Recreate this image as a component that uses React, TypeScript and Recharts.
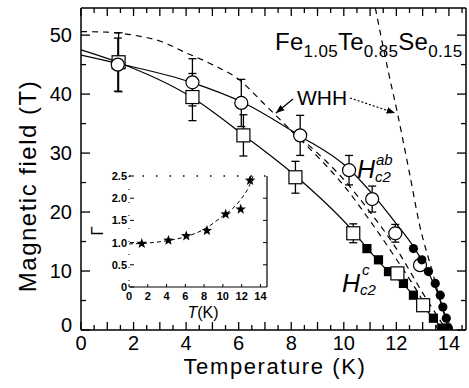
import React from "react";
import { ComposedChart, Line, Scatter, XAxis, YAxis, ErrorBar, ReferenceLine } from "recharts";

const FONT = "Arial, 'Liberation Sans', Helvetica, sans-serif";

// main panel: upper critical field vs temperature
const X_TICKS = [0, 0.5, 1, 1.5, 2, 2.5, 3, 3.5, 4, 4.5, 5, 5.5, 6, 6.5, 7, 7.5, 8, 8.5, 9, 9.5, 10, 10.5, 11, 11.5, 12, 12.5, 13, 13.5, 14, 14.5];
const Y_TICKS = [0, 5, 10, 15, 20, 25, 30, 35, 40, 45, 50];

const AB_OPEN_T = [1.4, 4.24, 6.1, 8.34, 10.2, 11.08, 11.96, 12.9];
const AB_OPEN_H = [45, 42, 38.5, 33, 27.1, 22.2, 16.4, 11];
const AB_OPEN_ERR = [4.5, 4, 4, 3.4, 2.5, 2.2, 1.5, 0];

const C_OPEN_T = [1.43, 4.24, 6.18, 8.16, 10.36, 12.04, 13.02];
const C_OPEN_H = [45.4, 39.5, 33, 25.9, 16.4, 9.6, 4.2];
const C_OPEN_ERR = [5, 4, 3.5, 2.7, 1.6, 0, 0];

const AB_FILL_T = [12.65, 12.97, 13.22, 13.48, 13.67, 13.77, 13.9, 13.98];
const AB_FILL_H = [13.8, 11.9, 9.9, 7.9, 5.9, 3.9, 2.0, 0.3];

const C_FILL_T = [10.88, 11.32, 11.7, 12.27, 12.65, 13.03, 13.41, 13.73, 13.92];
const C_FILL_H = [13.8, 11.9, 9.9, 7.9, 5.9, 3.9, 2.0, 0.3, 0.3];

const FIT_AB_T = [0, 1.4, 4.2, 6.2, 8.3, 10.2, 11.1, 12.0, 12.7, 13.2, 13.6, 13.85, 14.0];
const FIT_AB_H = [46.6, 45.2, 42, 38.5, 33, 27.3, 23, 18, 13.8, 9.9, 5.9, 2.5, 0];

const FIT_C_T = [0, 1.4, 4.2, 6.2, 8.2, 10.3, 10.9, 11.7, 12.3, 12.7, 13.05, 13.45, 13.8];
const FIT_C_H = [47.5, 45.4, 39.5, 33, 26, 17, 13.8, 9.9, 7.6, 5.6, 3.8, 1.8, 0];

const WHH_C_T = [0, 1, 2, 3, 4, 5, 6, 7, 8, 9, 10, 11, 12, 13, 13.6];
const WHH_C_H = [50.6, 50.5, 50, 49, 47, 45, 42.5, 38.2, 33.8, 29.4, 24.5, 18.5, 12, 5, 0];

const WHH_C2_T = [8, 9, 10, 11, 12, 13, 13.9];
const WHH_C2_H = [33.8, 30, 25.5, 20, 13.8, 6.3, 0];

const WHH_AB_T = [11.2, 11.7, 12.04, 12.5, 12.9, 13.35, 13.7, 14.0];
const WHH_AB_H = [54.6, 43.7, 36.8, 26.6, 17.5, 10.2, 4.5, 0];

// inset: anisotropy
const IN_X_TICKS = [0, 2, 4, 6, 8, 10, 12, 14];
const IN_Y_TICKS = [0, 0.5, 1.0, 1.5, 2.0, 2.5];
const IN_Y_LABELS = ["0", "0.5", "1.0", "1.5", "2.0", "2.5"];
const GAMMA_T = [1.36, 4.2, 6.1, 8.3, 10.3, 11.9, 12.9];
const GAMMA_V = [0.98, 1.05, 1.15, 1.27, 1.64, 1.75, 2.4];
const GAMMA_FIT_T = [0, 2, 4, 6, 8, 10, 11, 12, 12.75, 13.25];
const GAMMA_FIT_V = [0.97, 0.99, 1.04, 1.13, 1.3, 1.6, 1.76, 2.0, 2.25, 2.52];

const pts = (t: number[], h: number[], e?: number[]) =>
  t.map((v, i) => ({ t: v, h: h[i], err: e ? e[i] : undefined }));

const BottomTick = ({ x, y, payload }: any) => {
  const v = payload.value;
  const len = Number.isInteger(v) ? 8 : 5;
  return (
    <g>
      <line x1={x} x2={x} y1={y} y2={y - len} stroke="#000" strokeWidth={1.3} />
      {v % 2 === 0 && (
        <text x={x} y={y + 20} textAnchor="middle" fontSize={20} fontFamily={FONT} fill="#000">{v}</text>
      )}
    </g>
  );
};

const TopTick = ({ x, y, payload }: any) => {
  const len = Number.isInteger(payload.value) ? 8 : 5;
  return <line x1={x} x2={x} y1={y} y2={y + len} stroke="#000" strokeWidth={1.3} />;
};

const LeftTick = ({ x, y, payload }: any) => {
  const v = payload.value;
  const len = v % 10 === 0 ? 9 : 5;
  return (
    <g>
      <line x1={x} x2={x + len} y1={y} y2={y} stroke="#000" strokeWidth={1.3} />
      {v % 10 === 0 && (
        <text x={x - 9} y={v === 0 ? y + 2 : y + 7} textAnchor="end" fontSize={20} fontFamily={FONT} fill="#000">{v}</text>
      )}
    </g>
  );
};

const RightTick = ({ x, y, payload }: any) => {
  const len = payload.value % 10 === 0 ? 9 : 5;
  return <line x1={x} x2={x - len} y1={y} y2={y} stroke="#000" strokeWidth={1.3} />;
};

const InBottomTick = ({ x, y, payload }: any) => (
  <g>
    <line x1={x} x2={x} y1={y} y2={y - 3} stroke="#000" strokeWidth={1} />
    <text x={x} y={y + 13} textAnchor="middle" fontSize={11} fontWeight="bold" fontFamily={FONT} fill="#000">{payload.value}</text>
  </g>
);

const InLeftTick = ({ x, y, payload, index }: any) => (
  <g>
    <line x1={x + 1} x2={x + 5} y1={y} y2={y} stroke="#000" strokeWidth={1} />
    <text x={x - 2} y={y + 4} textAnchor="end" fontSize={11} fontWeight="bold" fontFamily={FONT} fill="#000">
      {IN_Y_LABELS[index] ?? payload.value}
    </text>
  </g>
);

const InRightTick = ({ x, y }: any) => <line x1={x} x2={x - 4} y1={y} y2={y} stroke="#000" strokeWidth={1} />;

const OpenCircle = ({ cx, cy }: any) => <circle cx={cx} cy={cy} r={6.5} fill="#fff" stroke="#000" strokeWidth={1.2} />;
const OpenSquare = ({ cx, cy }: any) => (
  <rect x={cx - 6.5} y={cy - 6.5} width={13} height={13} fill="#fff" stroke="#000" strokeWidth={1.2} />
);
const FilledCircle = ({ cx, cy }: any) => <circle cx={cx} cy={cy} r={4.6} fill="#000" />;
const FilledSquare = ({ cx, cy }: any) => <rect x={cx - 4.6} y={cy - 4.6} width={9.2} height={9.2} fill="#000" />;
const Star = ({ cx, cy }: any) => {
  const p: string[] = [];
  for (let i = 0; i < 10; i++) {
    const r = i % 2 === 0 ? 5.5 : 2.3;
    const a = -Math.PI / 2 + (i * Math.PI) / 5;
    p.push(`${cx + r * Math.cos(a)},${cy + r * Math.sin(a)}`);
  }
  return <polygon points={p.join(" ")} fill="#000" />;
};

const axisStyle = { stroke: "#000", strokeWidth: 1.5 };

export default function App() {
  return (
    <div style={{ position: "absolute", left: 0, top: 0, width: 469, height: 388, background: "#fff", fontFamily: FONT }}>
      <ComposedChart width={469} height={388} margin={{ top: 7, right: 2, bottom: 0, left: 0 }}>
        <XAxis type="number" dataKey="t" domain={[0, 14.65]} allowDataOverflow ticks={X_TICKS} interval={0}
          tickSize={0} tickMargin={0} tickLine={false} tick={<BottomTick />} axisLine={axisStyle} height={58} />
        <XAxis xAxisId="top" orientation="top" type="number" dataKey="t" domain={[0, 14.65]} allowDataOverflow
          ticks={X_TICKS} interval={0} tickSize={0} tickMargin={0} tickLine={false} tick={<TopTick />} axisLine={axisStyle} height={1} />
        <YAxis type="number" dataKey="h" domain={[0, 54.6]} allowDataOverflow ticks={Y_TICKS} interval={0}
          tickSize={0} tickMargin={0} tickLine={false} tick={<LeftTick />} axisLine={axisStyle} width={81} />
        <YAxis yAxisId="right" orientation="right" type="number" dataKey="h" domain={[0, 54.6]} allowDataOverflow
          ticks={Y_TICKS} interval={0} tickSize={0} tickMargin={0} tickLine={false} tick={<RightTick />} axisLine={axisStyle} width={1} />

        <Line data={pts(WHH_C_T, WHH_C_H)} dataKey="h" type="monotone" stroke="#000" strokeWidth={1.2} strokeDasharray="6 5" dot={false} isAnimationActive={false} />
        <Line data={pts(WHH_C2_T, WHH_C2_H)} dataKey="h" type="monotone" stroke="#000" strokeWidth={1.2} strokeDasharray="6 5" dot={false} isAnimationActive={false} />
        {/* same scale as the main axes; tied to the top/right frame axes */}
        <Line data={pts(WHH_AB_T, WHH_AB_H)} xAxisId="top" yAxisId="right" dataKey="h" type="monotone" stroke="#000" strokeWidth={1.2} strokeDasharray="6 5" dot={false} isAnimationActive={false} />
        <Line data={pts(FIT_AB_T, FIT_AB_H)} dataKey="h" type="monotone" stroke="#000" strokeWidth={1.2} dot={false} isAnimationActive={false} />
        <Line data={pts(FIT_C_T, FIT_C_H)} dataKey="h" type="monotone" stroke="#000" strokeWidth={1.2} dot={false} isAnimationActive={false} />

        <Scatter data={pts(C_FILL_T, C_FILL_H)} dataKey="h" shape={<FilledSquare />} isAnimationActive={false} />
        <Scatter data={pts(C_OPEN_T, C_OPEN_H, C_OPEN_ERR)} dataKey="h" shape={<OpenSquare />} isAnimationActive={false}>
          <ErrorBar dataKey="err" direction="y" width={4} stroke="#000" strokeWidth={1.3} />
        </Scatter>
        <Scatter data={pts(AB_OPEN_T, AB_OPEN_H, AB_OPEN_ERR)} dataKey="h" shape={<OpenCircle />} isAnimationActive={false}>
          <ErrorBar dataKey="err" direction="y" width={4} stroke="#000" strokeWidth={1.3} />
        </Scatter>
        <Scatter data={pts(AB_FILL_T, AB_FILL_H)} dataKey="h" shape={<FilledCircle />} isAnimationActive={false} />
      </ComposedChart>

      {/* inset */}
      <div style={{ position: "absolute", left: 90, top: 165, width: 185, height: 160 }}>
        <ComposedChart width={185} height={160} margin={{ top: 11, right: 7, bottom: 0, left: 0 }}>
          <XAxis type="number" dataKey="t" domain={[0, 14.7]} allowDataOverflow ticks={IN_X_TICKS} interval={0}
            tickSize={0} tickMargin={0} tickLine={false} tick={<InBottomTick />} axisLine={{ stroke: "#000", strokeWidth: 1.2 }} height={38} />
          <YAxis type="number" dataKey="g" domain={[0, 2.5]} allowDataOverflow ticks={IN_Y_TICKS} interval={0}
            tickSize={0} tickMargin={0} tickLine={false} tick={<InLeftTick />} axisLine={{ stroke: "#000", strokeWidth: 1, strokeDasharray: "1 12" }} width={39} />
          <YAxis yAxisId="right" orientation="right" type="number" dataKey="g" domain={[0, 2.5]} allowDataOverflow
            ticks={[0.5, 1.0, 1.5, 2.0]} interval={0} tickSize={0} tickMargin={0} tickLine={false} tick={<InRightTick />}
            axisLine={{ stroke: "#000", strokeWidth: 1.2 }} width={1} />
          <ReferenceLine y={2.5} stroke="#000" strokeWidth={1.5} strokeDasharray="1.5 12" />
          <Line data={GAMMA_FIT_T.map((t, i) => ({ t, g: GAMMA_FIT_V[i] }))} yAxisId="right" dataKey="g" type="monotone" stroke="#000"
            strokeWidth={1} strokeDasharray="4 3" dot={false} isAnimationActive={false} />
          <Scatter data={GAMMA_T.map((t, i) => ({ t, g: GAMMA_V[i] }))} dataKey="g" shape={<Star />} isAnimationActive={false} />
        </ComposedChart>
      </div>

      {/* annotations */}
      <svg width={469} height={388} style={{ position: "absolute", left: 0, top: 0, pointerEvents: "none" }} fontFamily={FONT}>
        <defs>
          <marker id="ah" viewBox="0 0 10 10" refX="10" refY="5" markerWidth="7" markerHeight="7" orient="auto-start-reverse">
            <path d="M0,1 L10,5 L0,9 z" fill="#000" />
          </marker>
        </defs>
        <text transform="translate(27,186) rotate(-90)" textAnchor="middle" dominantBaseline="central" fontSize={24}
          letterSpacing={1.5} fill="#000">
          Magnetic field (T)
        </text>
        <text x={275} y={374} textAnchor="middle" fontSize={22} letterSpacing={1.6} fill="#000">Temperature (K)</text>

        <text x={275} y={50} fontSize={24} letterSpacing={0.3} fill="#000">
          Fe<tspan fontSize={17} dy={7}>1.05</tspan>
          <tspan dy={-7}>Te</tspan><tspan fontSize={17} dy={7}>0.85</tspan>
          <tspan dy={-7}>Se</tspan><tspan fontSize={17} dy={7}>0.15</tspan>
        </text>

        <text x={297} y={105} fontSize={21} fill="#000">WHH</text>
        <line x1={293} y1={99} x2={276} y2={113} stroke="#000" strokeWidth={1.2} markerEnd="url(#ah)" />
        <line x1={350} y1={98} x2={395} y2={113} stroke="#000" strokeWidth={1.2} strokeDasharray="2 2" markerEnd="url(#ah)" />

        <text x={357} y={178} fontSize={25} fontStyle="italic" fill="#000">H</text>
        <text x={376} y={165} fontSize={15} fontStyle="italic" fill="#000">ab</text>
        <text x={375} y={182} fontSize={15} fontStyle="italic" fill="#000">c2</text>

        <text x={342} y={292} fontSize={25} fontStyle="italic" fill="#000">H</text>
        <text x={362} y={275} fontSize={15} fontStyle="italic" fill="#000">c</text>
        <text x={360} y={295} fontSize={15} fontStyle="italic" fill="#000">c2</text>

        <text transform="translate(97,231) rotate(-90)" textAnchor="middle" dominantBaseline="central" fontSize={17} fill="#000">Γ</text>
        <text x={203} y={318} textAnchor="middle" fontSize={16} fill="#000">
          <tspan fontStyle="italic">T</tspan>(K)
        </text>
      </svg>
    </div>
  );
}
